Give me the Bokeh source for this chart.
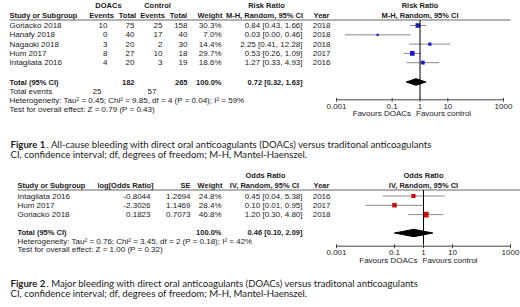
import numpy as np
from bokeh.plotting import figure
from bokeh.models import Range1d, LogScale, ColumnDataSource
from bokeh.core.properties import value
from bokeh.embed import file_html
from bokeh.resources import INLINE

# ---------------- Figure 1 data (all-cause bleeding, risk ratio) ----------------
f1_studies = ["Goriacko 2018", "Hanafy 2018", "Nagaoki 2018", "Hum 2017", "Intagliata 2016"]
f1_doac_events = [10, 0, 3, 8, 4]
f1_doac_total = [75, 40, 20, 27, 20]
f1_ctrl_events = [25, 17, 2, 10, 3]
f1_ctrl_total = [158, 40, 30, 18, 19]
f1_weight = [30.3, 7.0, 14.4, 29.7, 18.6]
f1_rr = [0.84, 0.03, 2.25, 0.53, 1.27]
f1_lo = [0.43, 0.002, 0.41, 0.26, 0.33]
f1_hi = [1.66, 0.46, 12.28, 1.09, 4.93]
f1_year = [2018, 2018, 2018, 2017, 2016]
f1_total_n = [182, 265]
f1_total_events = [25, 57]
f1_total_est = [0.72, 0.32, 1.63]
f1_het = "Heterogeneity: Tau\u00b2 = 0.45; Chi\u00b2 = 9.85, df = 4 (P = 0.04); I\u00b2 = 59%"
f1_test = "Test for overall effect: Z = 0.79 (P = 0.43)"
f1_cap_bold = "Figure 1"
f1_cap = ". All-cause bleeding with direct oral anticoagulants (DOACs) versus traditonal anticoagulants"

# ---------------- Figure 2 data (major bleeding, odds ratio) ----------------
f2_studies = ["Intagliata 2016", "Hum 2017", "Goriacko 2018"]
f2_log_or = [-0.8044, -2.3026, 0.1823]
f2_se = [1.2694, 1.1469, 0.7073]
f2_weight = [24.8, 28.4, 46.8]
f2_or = [0.45, 0.10, 1.20]
f2_lo = [0.04, 0.01, 0.30]
f2_hi = [5.38, 0.95, 4.80]
f2_year = [2016, 2017, 2018]
f2_total_est = [0.46, 0.10, 2.09]
f2_het = "Heterogeneity: Tau\u00b2 = 0.76; Chi\u00b2 = 3.45, df = 2 (P = 0.18); I\u00b2 = 42%"
f2_test = "Test for overall effect: Z = 1.00 (P = 0.32)"
f2_cap_bold = "Figure 2"
f2_cap = ". Major bleeding with direct oral anticoagulants (DOACs) versus traditonal anticoagulants"

cap_note = "CI, confidence interval; df, degrees of freedom; M-H, Mantel-Haenszel."
axis_ticks = [0.001, 0.1, 1, 10, 1000]
axis_labels = ["0.001", "0.1", "1", "10", "1000"]
favours = ["Favours DOACs", "Favours control"]

# ---------------- styling / layout ----------------
W, H = 520, 307
TFONT = "Liberation Sans"
CFONT = "Lato"
TS = 8.0     # regular table text
BS = 7.5     # bold table text
CS = 9.6     # caption
TXT = "#1a1a1a"
GRAY = "#8a8a8a"
BLUE = "#1a1ac8"
RED = "#cc1010"

p = figure(width=W, height=H, x_range=Range1d(0, W), y_range=Range1d(H, 0),
           output_backend="svg", toolbar_location=None, min_border=0,
           x_axis_location=None, y_axis_location=None)
p.grid.visible = False
p.outline_line_color = None
p.background_fill_color = "white"
p.border_fill_color = "white"


def log_range(px0, px1, lo=0.001, hi=1000.0):
    dec = (px1 - px0) / np.log10(hi / lo)
    return Range1d(10 ** (np.log10(lo) - px0 / dec), 10 ** (np.log10(hi) + (W - px1) / dec))


p.extra_x_ranges = {"f1": log_range(336, 503), "f2": log_range(336, 510)}
p.extra_x_scales = {"f1": LogScale(), "f2": LogScale()}


def put(xs, ys, texts, align="left", bold=False, size=None, font=TFONT, rng="default", x_offset=0, color=TXT):
    texts = list(texts)
    n = len(texts)
    if size is None:
        size = BS if bold else TS
    xs = list(xs) if isinstance(xs, (list, tuple, np.ndarray)) else [xs] * n
    ys = list(ys) if isinstance(ys, (list, tuple, np.ndarray)) else [ys] * n
    src = ColumnDataSource(dict(x=xs, y=ys, t=texts))
    p.text(x="x", y="y", text="t", source=src, text_align=align, text_baseline="middle",
           text_font=value(font), text_font_size=f"{size}px",
           text_font_style="bold" if bold else "normal", text_color=color,
           x_range_name=rng, x_offset=x_offset)


def ci(e, l, h):
    return f"{e:.2f} [{l:.2f}, {h:.2f}]"


def forest(rng, ys, est, lo, hi, weight, color, line_y, axis_y, total_y, total, dh, fav_off):
    p.segment(x0=lo, x1=hi, y0=ys, y1=ys, x_range_name=rng, line_color=GRAY, line_width=1)
    sizes = [0.85 * np.sqrt(w) for w in weight]
    p.scatter(x=est, y=ys, size=sizes, marker="square", fill_color=color, line_color=None,
              x_range_name=rng)
    e, l, h = total
    p.patch(x=[l, e, h, e], y=[total_y, total_y - dh, total_y, total_y + dh],
            fill_color="black", line_color="black", x_range_name=rng)
    p.segment(x0=[1], x1=[1], y0=[line_y], y1=[axis_y], x_range_name=rng,
              line_color="black", line_width=1)
    p.segment(x0=[axis_ticks[0]], x1=[axis_ticks[-1]], y0=[axis_y], y1=[axis_y],
              x_range_name=rng, line_color="#444444", line_width=1)
    p.segment(x0=axis_ticks, x1=axis_ticks, y0=axis_y - 2, y1=axis_y + 2,
              x_range_name=rng, line_color="#444444", line_width=1)
    put(axis_ticks, axis_y + 6.5, axis_labels, align="center", rng=rng)
    put([1], axis_y + 14, favours[:1], align="right", rng=rng, x_offset=fav_off[0])
    put([1], axis_y + 14, favours[1:], align="left", rng=rng, x_offset=fav_off[1])


# ================= Figure 1 =================
y1 = [25 + 9.3 * i for i in range(len(f1_studies))]
L1 = 9
put(L1, y1, f1_studies)
put(107, y1, [str(v) for v in f1_doac_events], align="right")
put(134, y1, [str(v) for v in f1_doac_total], align="right")
put(162, y1, [str(v) for v in f1_ctrl_events], align="right")
put(187, y1, [str(v) for v in f1_ctrl_total], align="right")
put(221, y1, [f"{w:.1f}%" for w in f1_weight], align="right")
put(302, y1, [ci(e, l, h) for e, l, h in zip(f1_rr, f1_lo, f1_hi)], align="right")
put(330, y1, [str(v) for v in f1_year], align="right")

put([108, 157, 266], 5, ["DOACs", "Control", "Risk Ratio"], align="center", bold=True)
put([L1], 15, ["Study or Subgroup"], bold=True)
put([101, 127, 152, 178, 209.5, 264, 321], 15,
    ["Events", "Total", "Events", "Total", "Weight", "M-H, Random, 95% CI", "Year"],
    align="center", bold=True)
put([1, 1], [5, 15], ["Risk Ratio", "M-H, Random, 95% CI"], align="center", bold=True, rng="f1")
p.segment(x0=[L1], x1=[510], y0=[19.5], y1=[19.5], line_color="#666666", line_width=1)

put([L1], 81.5, ["Total (95% CI)"], bold=True)
put([134, 187], 81.5, [str(v) for v in f1_total_n], align="right", bold=True)
put([221, 302], 81.5, ["100.0%", ci(*f1_total_est)], align="right", bold=True)
put([L1], 91, ["Total events"])
put([101, 156], 91, [str(v) for v in f1_total_events], align="right")
put([L1, L1], [100, 109], [f1_het, f1_test])

forest("f1", y1, f1_rr, f1_lo, f1_hi, f1_weight, BLUE, 19.5, 99.3, 81.5, f1_total_est, 3.3, (-9, -4))

put([10], 144, [f1_cap_bold], bold=True, size=CS, font=CFONT)
put([46], 144, [f1_cap], size=CS, font=CFONT)
put([10], 153.5, [cap_note], size=CS, font=CFONT)

# ================= Figure 2 =================
y2 = [195.5 + 9.3 * i for i in range(len(f2_studies))]
L2 = 17
put(L2, y2, f2_studies)
put(150, y2, [f"{v:.4f}" for v in f2_log_or], align="right")
put(190, y2, [f"{v:.4f}" for v in f2_se], align="right")
put(221, y2, [f"{w:.1f}%" for w in f2_weight], align="right")
put(302, y2, [ci(e, l, h) for e, l, h in zip(f2_or, f2_lo, f2_hi)], align="right")
put(330, y2, [str(v) for v in f2_year], align="right")

put([265], 175, ["Odds Ratio"], align="center", bold=True)
put([L2], 185, ["Study or Subgroup"], bold=True)
put([125, 185, 209.5, 264, 321], 185,
    ["log[Odds Ratio]", "SE", "Weight", "IV, Random, 95% CI", "Year"],
    align="center", bold=True)
put([1, 1], [175, 185], ["Odds Ratio", "IV, Random, 95% CI"], align="center", bold=True, rng="f2")
p.segment(x0=[L2], x1=[520], y0=[189.5], y1=[189.5], line_color="#666666", line_width=1)

put([L2], 231.5, ["Total (95% CI)"], bold=True)
put([221, 302], 231.5, ["100.0%", ci(*f2_total_est)], align="right", bold=True)
put([L2, L2], [240.5, 249], [f2_het, f2_test])

forest("f2", y2, f2_or, f2_lo, f2_hi, f2_weight, RED, 189.5, 245.7, 232.5, f2_total_est, 3.7, (-6, -1))

put([10], 283, [f2_cap_bold], bold=True, size=CS, font=CFONT)
put([46], 283, [f2_cap], size=CS, font=CFONT)
put([10], 293, [cap_note], size=CS, font=CFONT)

open("out.html", "w").write(file_html(p, INLINE))
